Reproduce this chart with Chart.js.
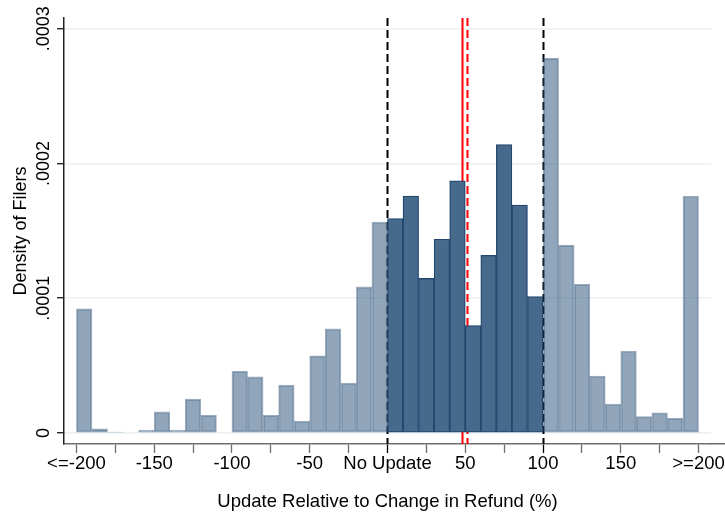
<!DOCTYPE html>
<html>
<head>
<meta charset="utf-8">
<script src="https://cdn.jsdelivr.net/npm/chart.js@4"></script>
<style>
  html, body { margin: 0; padding: 0; background: #fff; }
  #wrap { width: 725px; height: 515px; }
</style>
</head>
<body>
<div id="wrap"><canvas id="histChart" width="725" height="515"></canvas></div>
<script>
// bin centres (width 10), -200..200
const binCenters = [-195, -185, -175, -165, -155, -145, -135, -125, -115, -105,
                    -95, -85, -75, -65, -55, -45, -35, -25, -15, -5,
                    5, 15, 25, 35, 45, 55, 65, 75, 85, 95,
                    105, 115, 125, 135, 145, 155, 165, 175, 185, 195];
// density of filers per bin
const density = [0.0000921, 0.0000030, 0.0000007, 0, 0.0000022, 0.0000156, 0.0000022, 0.0000252, 0.0000131, 0,
                 0.0000457, 0.0000416, 0.0000131, 0.0000356, 0.0000089, 0.0000572, 0.0000772, 0.0000371, 0.0001084, 0.0001566,
                 0.0001592, 0.0001759, 0.0001147, 0.0001438, 0.0001872, 0.0000797, 0.0001319, 0.0002140, 0.0001692, 0.0001013,
                 0.0002782, 0.0001394, 0.0001103, 0.0000423, 0.0000215, 0.0000605, 0.0000122, 0.0000150, 0.0000110, 0.0001757];

const xTicks = [-200, -175, -150, -125, -100, -75, -50, -25, 0, 25, 50, 75, 100, 125, 150, 175, 200];
const xLabels = {'-200': '<=-200', '-150': '-150', '-100': '-100', '-50': '-50', '0': 'No Update',
                 '50': '50', '100': '100', '150': '150', '200': '>=200'};
const yTicks = [0, 0.0001, 0.0002, 0.0003];
const yLabels = ['0', '.0001', '.0002', '.0003'];

const blackDashLines = [0, 100];
const redSolidLine = 48;
const redDashLine = 51;

const FONT = '"Liberation Sans", Arial, sans-serif';

// highlighted range: updates between 0 and 100
function inRange(x) { return x > 0 && x < 100; }

const barFill = binCenters.map(x => inRange(x) ? '#476a8c' : 'rgba(71,106,140,0.6)');
const barEdge = binCenters.map(x => inRange(x) ? '#23486f' : 'rgba(35,72,111,0.45)');

// vertical reference lines, drawn behind the bars
const refLinesPlugin = {
    id: 'refLines',
    beforeDatasetsDraw(chart) {
        const ctx = chart.ctx;
        const area = chart.chartArea;
        const xs = chart.scales.x;
        ctx.save();
        ctx.lineWidth = 2;
        ctx.strokeStyle = '#000';
        ctx.setLineDash([8, 4]);
        blackDashLines.forEach(v => {
            const px = Math.round(xs.getPixelForValue(v)) + 0.5;
            ctx.beginPath();
            ctx.moveTo(px, area.top);
            ctx.lineTo(px, area.bottom);
            ctx.stroke();
        });
        ctx.strokeStyle = '#ff0000';
        ctx.beginPath();
        let px = Math.round(xs.getPixelForValue(redDashLine)) + 0.5;
        ctx.moveTo(px, area.top);
        ctx.lineTo(px, area.bottom);
        ctx.stroke();
        ctx.setLineDash([]);
        px = Math.round(xs.getPixelForValue(redSolidLine)) + 0.5;
        ctx.beginPath();
        ctx.moveTo(px, area.top);
        ctx.lineTo(px, area.bottom);
        ctx.stroke();
        ctx.restore();
    }
};

// rotated y tick labels, y title, and x axis line run to the edge
const yTextPlugin = {
    id: 'yText',
    afterDraw(chart) {
        const ctx = chart.ctx;
        const area = chart.chartArea;
        const ys = chart.scales.y;
        const lineY = Math.round(chart.scales.x.top - 0.75) + 0.75;
        ctx.save();
        ctx.strokeStyle = '#6e6e6e';
        ctx.lineWidth = 1.5;
        ctx.beginPath();
        ctx.moveTo(area.right - 1, lineY);
        ctx.lineTo(chart.width, lineY);
        ctx.stroke();

        ctx.fillStyle = '#000';
        ctx.font = '18px ' + FONT;
        ctx.textAlign = 'center';
        ctx.textBaseline = 'alphabetic';
        yTicks.forEach((v, i) => {
            const py = ys.getPixelForValue(v);
            ctx.save();
            ctx.translate(49, py);
            ctx.rotate(-Math.PI / 2);
            ctx.fillText(yLabels[i], 0, 0);
            ctx.restore();
        });
        ctx.save();
        ctx.translate(26, (area.top + area.bottom) / 2);
        ctx.rotate(-Math.PI / 2);
        ctx.fillText('Density of Filers', 0, 0);
        ctx.restore();
        ctx.restore();
    }
};

const ctx = document.getElementById('histChart').getContext('2d');
new Chart(ctx, {
    type: 'bar',
    data: {
        datasets: [{
            data: binCenters.map((x, i) => ({x: x, y: density[i]})),
            backgroundColor: barFill,
            borderColor: barEdge,
            borderWidth: 1.3,
            borderSkipped: false,
            barPercentage: 1,
            categoryPercentage: 1
        }]
    },
    options: {
        responsive: false,
        animation: false,
        devicePixelRatio: 1,
        layout: { padding: { top: 18, right: 12, left: 0, bottom: 0 } },
        plugins: {
            legend: { display: false },
            tooltip: { enabled: false }
        },
        scales: {
            x: {
                type: 'linear',
                offset: false,
                min: -208,
                max: 208,
                afterBuildTicks(scale) {
                    scale.ticks = xTicks.map(v => ({value: v}));
                },
                afterFit(scale) { scale.height = 71; },
                grid: {
                    offset: false,
                    drawOnChartArea: false,
                    drawTicks: true,
                    tickLength: 9,
                    tickWidth: 1.3,
                    tickColor: c => (c.tick && (c.tick.value === 0 || c.tick.value === 100)) ? '#000' : '#6e6e6e'
                },
                border: { display: true, color: '#6e6e6e', width: 1.5 },
                ticks: {
                    autoSkip: false,
                    maxRotation: 0,
                    minRotation: 0,
                    padding: 0,
                    color: '#000',
                    font: { family: FONT, size: 18.5 },
                    callback: v => xLabels[String(v)] || ''
                },
                title: {
                    display: true,
                    text: 'Update Relative to Change in Refund (%)',
                    color: '#000',
                    font: { family: FONT, size: 18.5 },
                    padding: { top: 0, bottom: 2 }
                }
            },
            y: {
                min: -0.0000082,
                max: 0.000308,
                afterBuildTicks(scale) {
                    scale.ticks = yTicks.map(v => ({value: v}));
                },
                afterFit(scale) { scale.width = 64; },
                grid: {
                    color: '#eaf0f3',
                    lineWidth: 1.5,
                    drawTicks: true,
                    tickLength: 7,
                    tickColor: '#000',
                    tickWidth: 1.2
                },
                border: { display: true, color: '#222', width: 1.5 },
                ticks: { display: false }
            }
        }
    },
    plugins: [refLinesPlugin, yTextPlugin]
});
</script>
</body>
</html>
